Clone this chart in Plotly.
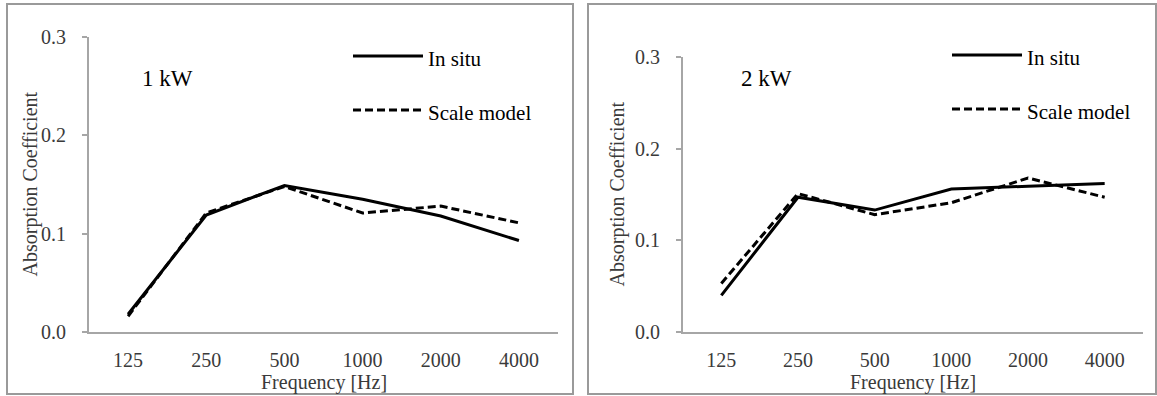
import plotly.graph_objects as go

categories = ["125", "250", "500", "1000", "2000", "4000"]
y_ticks = [0.0, 0.1, 0.2, 0.3]

insitu_1kw = [0.018, 0.119, 0.149, 0.135, 0.118, 0.093]
scale_1kw = [0.016, 0.121, 0.148, 0.121, 0.128, 0.111]

insitu_2kw = [0.040, 0.147, 0.133, 0.156, 0.159, 0.162]
scale_2kw = [0.053, 0.151, 0.128, 0.141, 0.168, 0.147]

panel_labels = ["1 kW", "2 kW"]
series_names = ["In situ", "Scale model"]

W, H = 1157, 396
FONT = "Liberation Serif, Times New Roman, DejaVu Serif, serif"
AXIS_COLOR = "#a6a6a6"
TEXT_COLOR = "#3a3a3a"


def px(x):
    return x / W


def py(y):
    return (H - y) / H


fig = go.Figure()

panels = [
    dict(ins=insitu_1kw, sc=scale_1kw, xa="x", ya="y", xd=[px(89), px(558)], yd=[py(332), py(37)],
         label=panel_labels[0], lab_xy=(140, 78), leg_x=(353, 423), leg_y=(56, 110),
         box=(7, 4, 573, 394), ytitle_x=30),
    dict(ins=insitu_2kw, sc=scale_2kw, xa="x2", ya="y2", xd=[px(683), px(1143)], yd=[py(332), py(57)],
         label=panel_labels[1], lab_xy=(739, 78), leg_x=(952, 1022), leg_y=(55, 109),
         box=(588, 4, 1156, 394), ytitle_x=617),
]

shapes = []
annotations = []
layout_axes = {}

for i, p in enumerate(panels):
    fig.add_trace(go.Scatter(x=categories, y=p["ins"], mode="lines", name=series_names[0],
                             line=dict(color="black", width=3), xaxis=p["xa"], yaxis=p["ya"],
                             showlegend=False))
    fig.add_trace(go.Scatter(x=categories, y=p["sc"], mode="lines", name=series_names[1],
                             line=dict(color="black", width=3, dash="8px,4px"), xaxis=p["xa"],
                             yaxis=p["ya"], showlegend=False))
    sfx = "" if i == 0 else "2"
    layout_axes["xaxis" + sfx] = dict(
        domain=p["xd"], anchor="y" + sfx, type="category", range=[-0.5, 5.5],
        showline=True, linecolor=AXIS_COLOR, linewidth=2, ticks="", showgrid=False,
        zeroline=False, tickfont=dict(family=FONT, size=20, color=TEXT_COLOR),
        ticklabelstandoff=9, fixedrange=True,
    )
    layout_axes["yaxis" + sfx] = dict(
        domain=p["yd"], anchor="x" + sfx, range=[0, 0.3], tickvals=y_ticks,
        tickformat=".1f", showline=True, linecolor=AXIS_COLOR, linewidth=2,
        ticks="outside", ticklen=5, tickcolor=AXIS_COLOR, tickwidth=2, showgrid=False,
        zeroline=False, tickfont=dict(family=FONT, size=20, color=TEXT_COLOR),
        ticklabelstandoff=12, fixedrange=True,
    )
    x0, y0, x1, y1 = p["box"]
    shapes.append(dict(type="rect", xref="paper", yref="paper", x0=px(x0), x1=px(x1),
                       y0=py(y1), y1=py(y0), line=dict(color="#9a9a9a", width=2)))
    # legend samples
    lx0, lx1 = p["leg_x"]
    ly0, ly1 = p["leg_y"]
    shapes.append(dict(type="line", xref="paper", yref="paper", x0=px(lx0), x1=px(lx1),
                       y0=py(ly0), y1=py(ly0), line=dict(color="black", width=3)))
    shapes.append(dict(type="line", xref="paper", yref="paper", x0=px(lx0), x1=px(lx1),
                       y0=py(ly1), y1=py(ly1), line=dict(color="black", width=3, dash="8px,4px")))
    annotations.append(dict(xref="paper", yref="paper", x=px(lx1 + 3), y=py(ly0 + 3),
                            text=series_names[0], showarrow=False, xanchor="left", yanchor="middle",
                            font=dict(family=FONT, size=21, color="black")))
    annotations.append(dict(xref="paper", yref="paper", x=px(lx1 + 3), y=py(ly1 + 3),
                            text=series_names[1], showarrow=False, xanchor="left", yanchor="middle",
                            font=dict(family=FONT, size=21, color="black")))
    # panel label
    annotations.append(dict(xref="paper", yref="paper", x=px(p["lab_xy"][0]), y=py(p["lab_xy"][1]),
                            text=p["label"], showarrow=False, xanchor="left", yanchor="middle",
                            font=dict(family=FONT, size=23, color="black")))
    # axis titles
    xc = (p["xd"][0] + p["xd"][1]) / 2
    annotations.append(dict(xref="paper", yref="paper", x=xc, y=py(382), text="Frequency [Hz]",
                            showarrow=False, xanchor="center", yanchor="middle",
                            font=dict(family=FONT, size=20, color=TEXT_COLOR)))
    yc = (p["yd"][0] + p["yd"][1]) / 2
    annotations.append(dict(xref="paper", yref="paper", x=px(p["ytitle_x"]), y=yc,
                            text="Absorption Coefficient", showarrow=False, textangle=-90,
                            xanchor="center", yanchor="middle",
                            font=dict(family=FONT, size=20, color=TEXT_COLOR)))

fig.update_layout(
    width=W, height=H, margin=dict(l=0, r=0, t=0, b=0, autoexpand=False),
    paper_bgcolor="white", plot_bgcolor="white", showlegend=False,
    shapes=shapes, annotations=annotations, **layout_axes,
)

fig.write_html("out.html", config={"displayModeBar": False},
               post_script="document.body.style.margin='0';document.body.style.overflow='hidden';")
